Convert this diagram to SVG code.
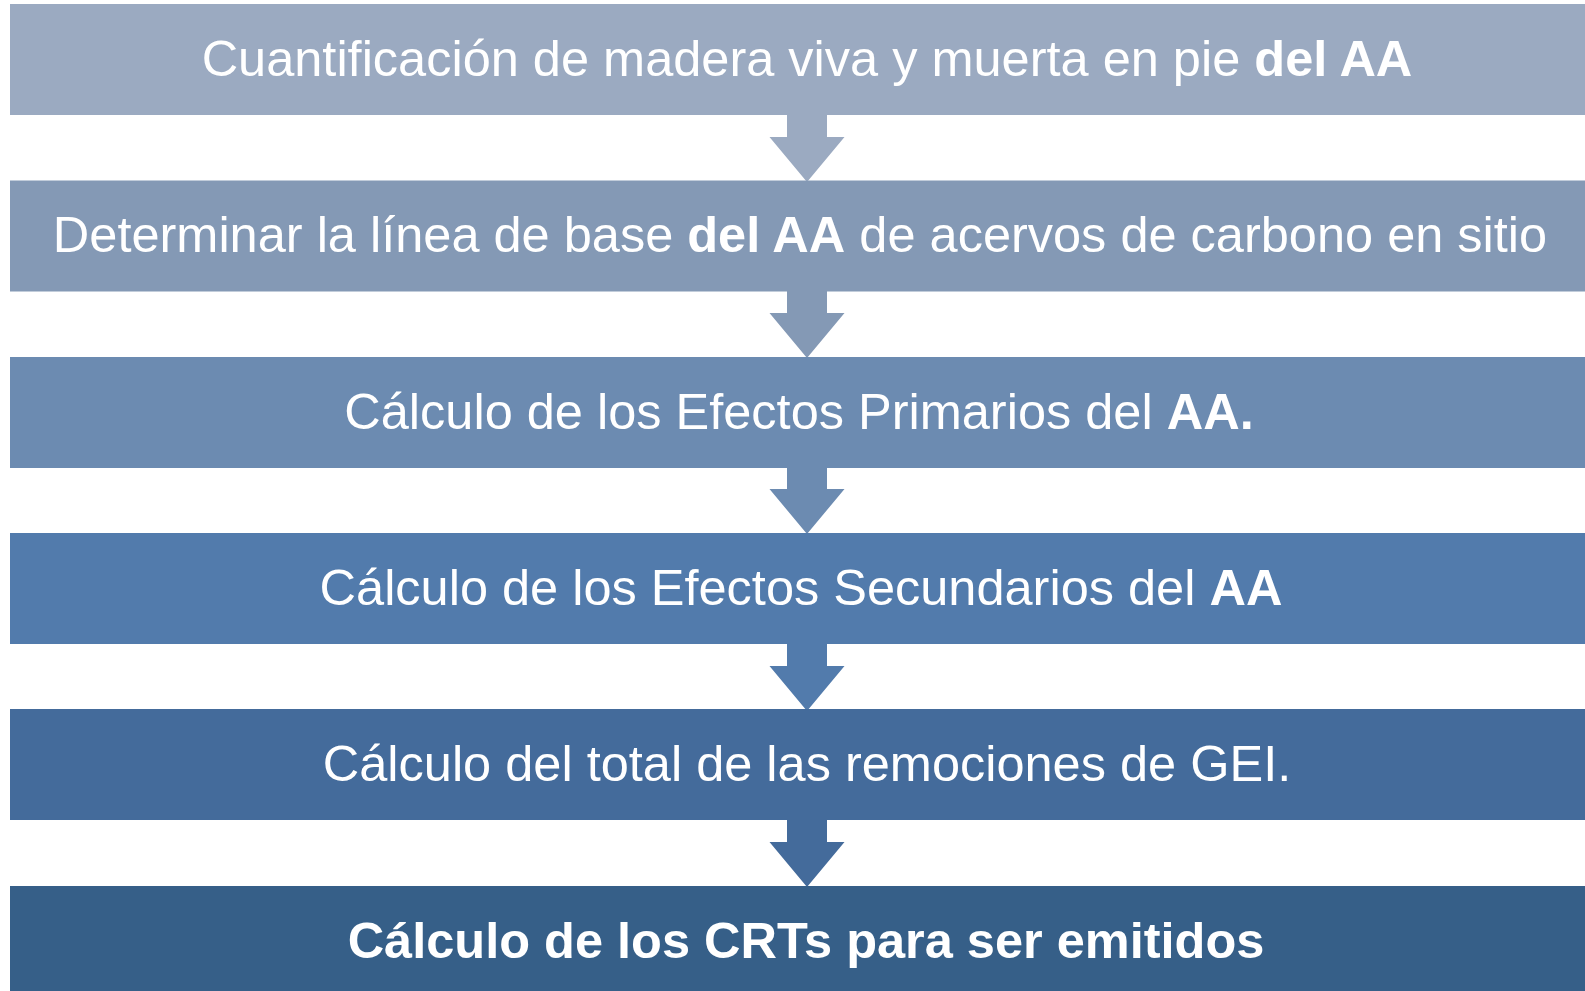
<svg xmlns="http://www.w3.org/2000/svg" width="1585" height="991" viewBox="0 0 1585 991">
<style>
.t{font-family:"Liberation Sans",Arial,sans-serif;font-size:50.5px;fill:#fff;text-anchor:middle}
.b{font-weight:bold}
</style>
<defs>
<path id="arr" d="M0,0 H40 V22 H57.5 L20,67 L-17.5,22 H0 Z"/>
</defs>
<rect width="1585" height="991" fill="#fff"/>
<g id="connectors">
<use href="#arr" x="787" y="115" fill="#9BAAC1"/>
<use href="#arr" x="787" y="291" fill="#8499B5"/>
<use href="#arr" x="787" y="467" fill="#6C8BB1"/>
<use href="#arr" x="787" y="644" fill="#527BAC"/>
<use href="#arr" x="787" y="820" fill="#446B9B"/>
</g>
<g id="n1"><rect x="10" y="4" width="1600" height="111" fill="#9BAAC1"/>
<text class="t" x="807" y="75.5">Cuantificación de madera viva y muerta en pie <tspan class="b">del AA</tspan></text></g>
<g id="n2"><rect x="10" y="180.5" width="1600" height="111" fill="#8499B5"/>
<text class="t" x="800" y="251.5">Determinar la línea de base <tspan class="b">del AA</tspan> de acervos de carbono en sitio</text></g>
<g id="n3"><rect x="10" y="357" width="1600" height="111" fill="#6C8BB1"/>
<text class="t" x="799" y="428.5">Cálculo de los Efectos Primarios del <tspan class="b">AA.</tspan></text></g>
<g id="n4"><rect x="10" y="533" width="1600" height="111" fill="#527BAC"/>
<text class="t" x="801" y="604.5">Cálculo de los Efectos Secundarios del <tspan class="b">AA</tspan></text></g>
<g id="n5"><rect x="10" y="709" width="1600" height="111" fill="#446B9B"/>
<text class="t" x="807" y="780.5">Cálculo del total de las remociones de GEI.</text></g>
<g id="n6"><rect x="10" y="886" width="1600" height="111" fill="#365F88"/>
<text class="t b" x="806" y="957.5">Cálculo de los CRTs para ser emitidos</text></g>
</svg>
